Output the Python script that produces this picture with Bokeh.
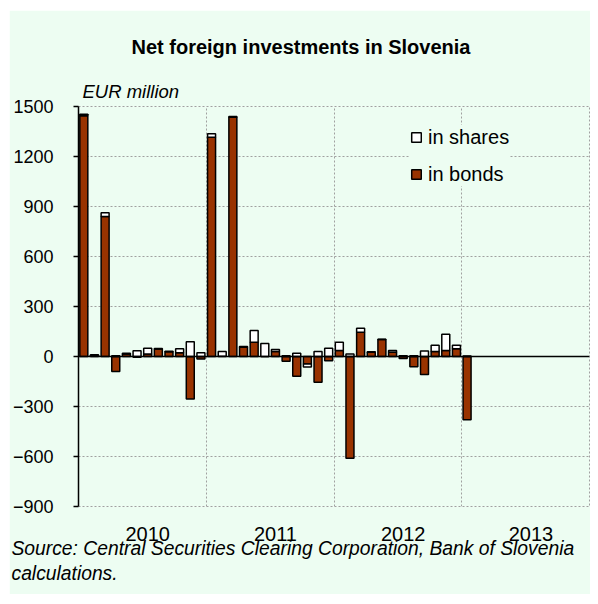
import numpy as np
from bokeh.plotting import figure
from bokeh.models import FixedTicker, Span, Legend, LegendItem, Title
from bokeh.embed import file_html
from bokeh.resources import INLINE

# ---- data (EUR million), monthly Jan 2010 .. Jan 2013 ----
years = ["2010", "2011", "2012", "2013"]
bonds = [1445, 8, 840, -90, 15, -5, 15, 45, 28, 22, -255, -15,
         1315, 2, 1435, 55, 86, 0, 30, -28, -118, -45, -155, -25,
         36, -610, 146, 25, 102, 26, -12, -62, -108, 30, 36, 46,
         -380]
shares = [8, 3, 22, 5, 5, 35, 35, 3, 4, 24, 88, 22,
          22, 28, 5, 5, 70, 78, 12, 5, 20, -18, 30, 50,
          50, 15, 24, 4, 2, 10, 4, 5, 33, 38, 98, 22,
          3]
y_ticks = [-900, -600, -300, 0, 300, 600, 900, 1200, 1500]

BG = "#EDFDF2"
BROWN = "#993300"
FONT = "Liberation Sans"

b = np.array(bonds, dtype=float)
s = np.array(shares, dtype=float)
x = np.arange(len(b)) + 0.5
s_bottom = np.where(s >= 0, np.maximum(b, 0), np.minimum(b, 0))
s_top = s_bottom + s

p = figure(frame_width=511, frame_height=400,
           x_range=(0, 12 * len(years)), y_range=(y_ticks[0], y_ticks[-1]),
           output_backend="svg", toolbar_location=None,
           min_border_left=68, min_border_right=1, min_border_top=0, min_border_bottom=88,
           background_fill_color=BG, border_fill_color=BG,
           outline_line_color="#A0A0A0", outline_line_dash="2 2", outline_line_width=1,
           margin=(10, 0, 0, 9))

r_bo = p.vbar(x=x, width=0.75, bottom=0, top=b, fill_color=BROWN,
              line_color="black", line_width=1.5)
r_sh = p.vbar(x=x, width=0.75, bottom=s_bottom, top=s_top, fill_color="white",
              line_color="black", line_width=1.5)

p.add_layout(Span(location=0, dimension="width", line_color="black", line_width=1.5))

# grids
p.ygrid.ticker = FixedTicker(ticks=[t for t in y_ticks if t != 0])
p.ygrid.grid_line_color = "#A0A0A0"
p.ygrid.grid_line_dash = "2 2"
p.xgrid.ticker = FixedTicker(ticks=[12 * i for i in range(1, len(years))])
p.xgrid.grid_line_color = "#A0A0A0"
p.xgrid.grid_line_dash = "2 2"

# y axis
ya = p.yaxis[0]
ya.ticker = FixedTicker(ticks=y_ticks)
ya.axis_line_color = "black"
ya.axis_line_width = 1.5
ya.major_tick_line_color = "black"
ya.major_tick_line_width = 1.5
ya.major_tick_out = 5
ya.major_tick_in = 0
ya.minor_tick_line_color = None
ya.major_label_text_font = FONT
ya.major_label_text_font_size = "18px"
ya.major_label_text_color = "black"
ya.major_label_standoff = 20

# x axis: year labels at mid-year
xa = p.xaxis[0]
lab_pos = [12 * i + 6.5 for i in range(len(years))]
xa.ticker = FixedTicker(ticks=lab_pos)
xa.major_label_overrides = {v: y for v, y in zip(lab_pos, years)}
xa.axis_line_color = None
xa.major_tick_line_color = None
xa.major_tick_out = 0
xa.major_tick_in = 0
xa.minor_tick_line_color = None
xa.major_label_text_font = FONT
xa.major_label_text_font_size = "20px"
xa.major_label_text_color = "black"
xa.major_label_standoff = 20

legend = Legend(items=[LegendItem(label="in shares", renderers=[r_sh]),
                       LegendItem(label="in bonds", renderers=[r_bo])],
                location=(332, 320), background_fill_color=BG, background_fill_alpha=1.0,
                border_line_color=None, padding=10, margin=0,
                glyph_width=12, glyph_height=12, label_height=24, spacing=13,
                label_standoff=6, label_text_font=FONT, label_text_font_size="20px",
                label_text_color="black")
p.add_layout(legend)

# texts above the frame (first added = closest to the frame)
p.add_layout(Title(text="EUR million", align="left", offset=4, vertical_align="bottom",
                   standoff=10, text_font=FONT, text_font_style="italic",
                   text_font_size="18.5px", text_color="black"), "above")
p.add_layout(Title(text="Net foreign investments in Slovenia", align="left", offset=53,
                   vertical_align="bottom", standoff=32, text_font=FONT,
                   text_font_style="bold", text_font_size="20px", text_color="black"), "above")
p.add_layout(Title(text=" ", align="left", vertical_align="bottom", standoff=3.5,
                   text_font=FONT, text_font_size="1px"), "above")

# source note below the axis
p.add_layout(Title(text="Source: Central Securities Clearing Corporation, Bank of Slovenia\ncalculations.",
                   align="left", offset=-67, vertical_align="top", standoff=-12,
                   text_font=FONT, text_font_style="italic", text_font_size="19.3px",
                   text_line_height=1.2, text_color="black"), "below")

open("out.html", "w").write(file_html(p, INLINE))
